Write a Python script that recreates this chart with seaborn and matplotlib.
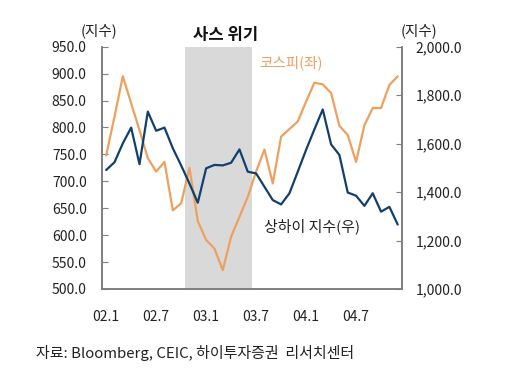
import matplotlib
matplotlib.use("Agg")
import matplotlib.pyplot as plt
import matplotlib.ticker as mticker
import seaborn as sns
import pandas as pd

# 2002.1 ~ 2004.12 월별
months = [f"{y:02d}.{m}" for y in (2, 3, 4) for m in range(1, 13)]

kospi = [748, 820, 895, 845, 795, 743, 718, 736, 646, 659,
         725, 626, 591, 575, 535, 597, 634, 671, 718, 759,
         696, 783, 797, 811, 848, 883, 880, 864, 803, 786,
         736, 804, 836, 836, 879, 895]

shanghai = [1491, 1523, 1601, 1666, 1515, 1732, 1653, 1666, 1581, 1510,
            1435, 1356, 1498, 1512, 1510, 1521, 1576, 1484, 1477, 1422,
            1367, 1349, 1395, 1484, 1574, 1659, 1741, 1597, 1553, 1398,
            1385, 1343, 1395, 1319, 1339, 1266]

tick_labels = ["02.1", "02.7", "03.1", "03.7", "04.1", "04.7"]

df = pd.DataFrame({"idx": range(len(months)), "kospi": kospi, "shanghai": shanghai})

sns.set_style("white")
plt.rcParams["font.family"] = ["Noto Sans CJK KR", "DejaVu Sans"]

orange = "#EEA05E"
navy = "#12406E"
spine_c = "#7F7F7F"

fig = plt.figure(figsize=(5.1, 3.81), dpi=100)
ax = fig.add_axes([0.2, 0.2415, 0.588, 0.636])
ax2 = ax.twinx()

# 사스 위기 구간
ax.axvspan(9.5, 17.5, color="#D9D9D9", lw=0, zorder=0)

sns.lineplot(data=df, x="idx", y="kospi", ax=ax, color=orange, linewidth=1.6)
sns.lineplot(data=df, x="idx", y="shanghai", ax=ax2, color=navy, linewidth=1.6)

ax.set_xlim(-0.5, len(months) - 0.5)
ax.set_ylim(500, 950)
ax2.set_ylim(1000, 2000)

ax.set_yticks(range(500, 951, 50))
ax.yaxis.set_major_formatter(mticker.FuncFormatter(lambda v, p: f"{v:.1f}"))
ax2.set_yticks(range(1000, 2001, 200))
ax2.yaxis.set_major_formatter(mticker.FuncFormatter(lambda v, p: f"{v:,.1f}"))

ax.set_xticks([months.index(t) for t in tick_labels])
ax.set_xticklabels(tick_labels)
ax.set_xticks([i - 0.5 for i in range(len(months) + 1)], minor=True)
ax.tick_params(axis="x", which="major", length=0, pad=15, labelsize=10, colors="#222222")
ax.tick_params(axis="x", which="minor", direction="in", length=4, width=0.8, color=spine_c)
ax.tick_params(axis="y", direction="in", length=4, width=0.8, color=spine_c,
               pad=11, labelsize=10, labelcolor="#222222")
ax2.tick_params(axis="y", direction="in", length=4, width=0.8, color=spine_c,
                pad=10, labelsize=10, labelcolor="#222222")

for a in (ax, ax2):
    a.set_xlabel("")
    a.set_ylabel("")
    a.spines["top"].set_visible(False)
    for s in ("left", "right", "bottom"):
        a.spines[s].set_color(spine_c)
        a.spines[s].set_linewidth(1.2)

fig.text(99 / 510, 1 - 31 / 381, "(지수)", ha="center", va="center", fontsize=10.5, color="#222222")
fig.text(419 / 510, 1 - 31 / 381, "(지수)", ha="center", va="center", fontsize=10.5, color="#222222")
fig.text(226 / 510, 1 - 35 / 381, "사스 위기", ha="center", va="center", fontsize=12,
         fontweight="bold", color="#111111")
fig.text(259 / 510, 1 - 63 / 381, "코스피(좌)", ha="left", va="center", fontsize=10.5, color=orange)
fig.text(264 / 510, 1 - 226 / 381, "상하이 지수(우)", ha="left", va="center", fontsize=10.8, color="#222222")
fig.text(36 / 510, 1 - 353 / 381, "자료: Bloomberg, CEIC, 하이투자증권  리서치센터", ha="left",
         va="center", fontsize=10.8, color="#222222")

fig.savefig("out.png", dpi=100)
